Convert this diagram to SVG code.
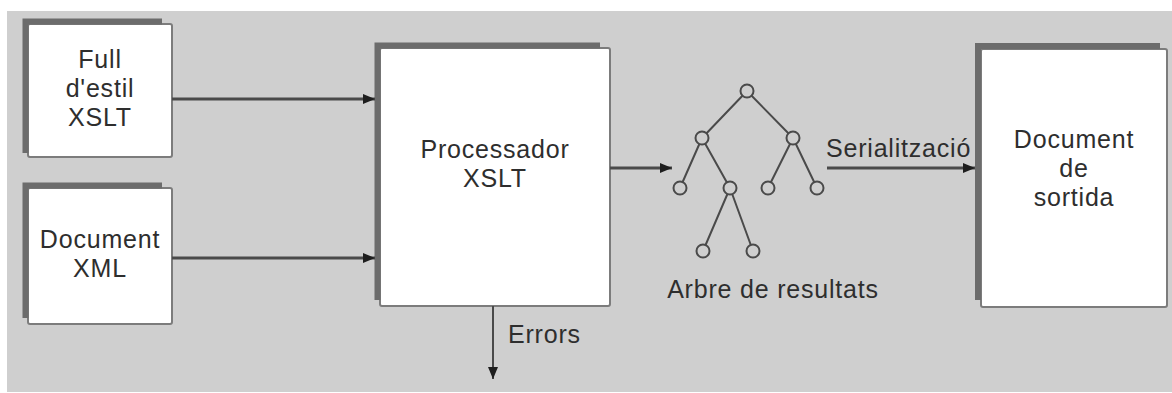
<svg xmlns="http://www.w3.org/2000/svg" width="1172" height="393" viewBox="0 0 1172 393">
  <style>
    .page { fill: #cfcfcf; }
    .box { fill: #ffffff; stroke: #7c7c7c; stroke-width: 2; }
    .bar { fill: none; stroke: #6c6c6c; stroke-width: 6; }
    .label { font-family: "Liberation Sans", Arial, sans-serif; font-size: 25px; letter-spacing: 0.8px; fill: #2e2e2e; text-anchor: middle; }
    .note { font-family: "Liberation Sans", Arial, sans-serif; font-size: 25px; letter-spacing: 0.8px; fill: #2e2e2e; }
    .wire { fill: none; stroke: #4a4a4a; stroke-width: 3; }
    .edge { fill: none; stroke: #4a4a4a; stroke-width: 2; }
    .leaf { fill: #cfcfcf; stroke: #4a4a4a; stroke-width: 2; }
  </style>
  <defs>
    <marker id="head" markerWidth="12" markerHeight="10" refX="12" refY="5" orient="auto" markerUnits="userSpaceOnUse">
      <path d="M0,0 L12,5 L0,10 Z" fill="#1e1e1e"/>
    </marker>
  </defs>

  <rect class="page" x="7" y="11" width="1165" height="381"/>

  <!-- input: stylesheet -->
  <g id="stylesheet">
    <rect class="box" x="28" y="24" width="144" height="133" rx="2"/>
    <path class="bar" d="M25.5,153 V21.5 H162"/>
    <text class="label" x="100" y="68">Full</text>
    <text class="label" x="100" y="97">d'estil</text>
    <text class="label" x="100" y="126">XSLT</text>
  </g>

  <!-- input: XML document -->
  <g id="xml-document">
    <rect class="box" x="28" y="188" width="144" height="136" rx="2"/>
    <path class="bar" d="M25.5,318 V185.5 H162"/>
    <text class="label" x="100" y="248">Document</text>
    <text class="label" x="100" y="277">XML</text>
  </g>

  <!-- XSLT processor -->
  <g id="processor">
    <rect class="box" x="380" y="48" width="230" height="258" rx="2"/>
    <path class="bar" d="M377.5,300 V45.5 H600"/>
    <text class="label" x="495" y="158">Processador</text>
    <text class="label" x="495" y="187">XSLT</text>
  </g>

  <!-- result tree -->
  <g id="result-tree">
    <path class="edge" d="M747,91 L702,138 M747,91 L793,138 M702,138 L680,188 M702,138 L730,188 M793,138 L768,188 M793,138 L817,188 M730,188 L703,251 M730,188 L753,251"/>
    <circle class="leaf" cx="747" cy="91" r="6.5"/>
    <circle class="leaf" cx="702" cy="138" r="6.5"/>
    <circle class="leaf" cx="793" cy="138" r="6.5"/>
    <circle class="leaf" cx="680" cy="188" r="6.5"/>
    <circle class="leaf" cx="730" cy="188" r="6.5"/>
    <circle class="leaf" cx="768" cy="188" r="6.5"/>
    <circle class="leaf" cx="817" cy="188" r="6.5"/>
    <circle class="leaf" cx="703" cy="251" r="6.5"/>
    <circle class="leaf" cx="753" cy="251" r="6.5"/>
    <text class="label" x="773" y="298">Arbre de resultats</text>
  </g>

  <!-- output document -->
  <g id="output-document">
    <rect class="box" x="981" y="49" width="186" height="258" rx="2"/>
    <path class="bar" d="M978,300 V46 H1160"/>
    <text class="label" x="1074" y="148">Document</text>
    <text class="label" x="1074" y="177">de</text>
    <text class="label" x="1074" y="206">sortida</text>
  </g>

  <!-- connectors -->
  <g id="connectors">
    <line class="wire" x1="172" y1="99" x2="375" y2="99" marker-end="url(#head)"/>
    <line class="wire" x1="172" y1="258" x2="375" y2="258" marker-end="url(#head)"/>
    <line class="wire" x1="610" y1="168" x2="672" y2="168" marker-end="url(#head)"/>
    <line class="wire" x1="827" y1="168" x2="975" y2="168" marker-end="url(#head)"/>
    <line class="edge" x1="493" y1="306" x2="493" y2="379" marker-end="url(#head)"/>
    <text class="note" x="826" y="157">Serialització</text>
    <text class="note" x="508" y="343">Errors</text>
  </g>
</svg>
